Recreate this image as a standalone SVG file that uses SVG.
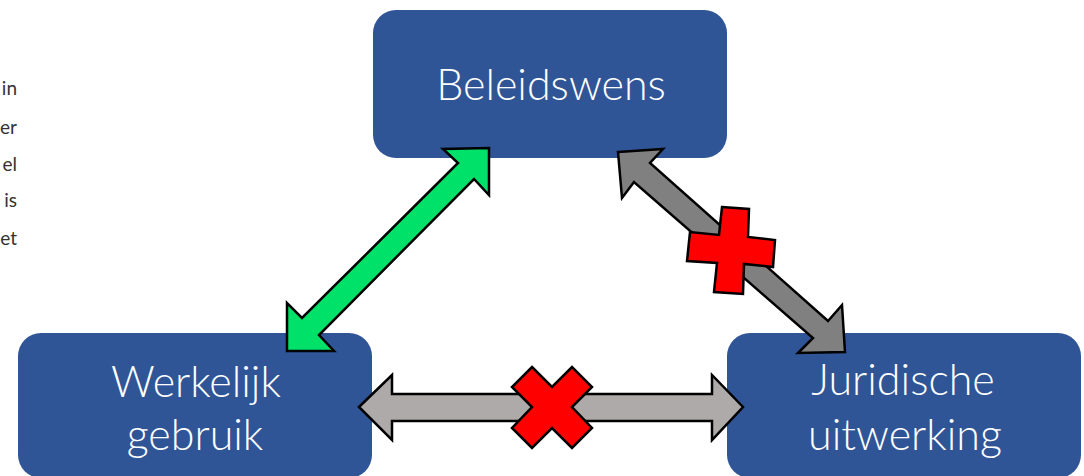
<svg xmlns="http://www.w3.org/2000/svg" width="1084" height="476" viewBox="0 0 1084 476">
<style>
.box{fill:#2F5597}
.lbl{font-family:Lato,"Open Sans","Liberation Sans",sans-serif;font-weight:300;font-size:43px;fill:#FFFFFF;text-anchor:middle}
.side{font-family:Lato,"Liberation Sans",sans-serif;font-size:19px;fill:#333333;text-anchor:end}
.arr{stroke:#000000;stroke-width:2.5;stroke-linejoin:miter}
</style>
<rect width="1084" height="476" fill="#FFFFFF"/>
<g id="side-text">
<text class="side" x="17" y="95">in</text>
<text class="side" x="17" y="134">er</text>
<text class="side" x="17" y="171">el</text>
<text class="side" x="17" y="207">is</text>
<text class="side" x="17" y="245">et</text>
</g>
<g id="beleidswens">
<rect class="box" x="373" y="10" width="354" height="148" rx="23"/>
<text class="lbl" x="551" y="100">Beleidswens</text>
</g>
<g id="werkelijk-gebruik">
<rect class="box" x="18" y="333" width="354" height="145" rx="23"/>
<text class="lbl" x="196" y="397">Werkelijk</text>
<text class="lbl" x="195" y="450">gebruik</text>
</g>
<g id="juridische-uitwerking">
<rect class="box" x="727" y="333" width="354" height="145" rx="23"/>
<text class="lbl" x="903" y="395">Juridische</text>
<text class="lbl" x="905" y="450">uitwerking</text>
</g>
<g id="connectors">
<polygon class="arr" fill="#00E16A" points="489,148 489,195 474,179 319,335 334,351 287,351 287,303 302,318 458,163 443,149"/>
<polygon class="arr" fill="#808080" points="618,152 663,149 650,163 828,321 842,305 845,352 798,353 813,338 634,182 622,198"/>
<polygon class="arr" fill="#FF0000" points="722,207 749,209 748,237 775,240 773,267 744,264 743,294 714,292 717,263 687,261 690,232 719,235"/>
<polygon class="arr" fill="#AEAAAA" points="359,407 392,375 392,394 712,394 712,375 743,407 712,440 712,421 392,421 392,440"/>
<polygon class="arr" fill="#FF0000" points="532,367 552,387 572,367 592,387 572,407 592,428 572,448 552,428 532,448 512,428 532,407 512,387"/>
</g>
</svg>
